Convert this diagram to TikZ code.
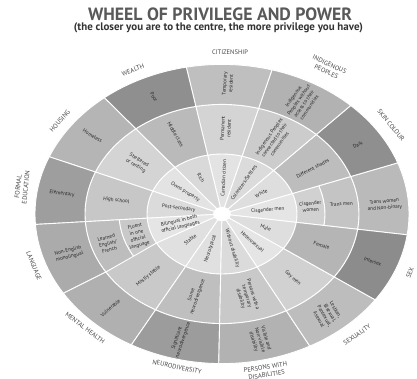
\documentclass[tikz,border=0pt]{standalone}
\usepackage{fontspec}
\setmainfont{PT Sans}
\usepackage{graphicx}
% one wedge of the wheel: a1in a2in a1out a2out rin rout colour
\newcommand\wcell[7]{%
  \filldraw[cellbox, fill=#7] (#1:#5) arc[start angle=#1, end angle=#2, radius=#5]
    -- (#4:#6) arc[start angle=#4, end angle=#3, radius=#6] -- cycle;}
\begin{document}
\begin{tikzpicture}[x=1pt,y=-1pt,
  cellbox/.style={draw=white, line width=0.9pt},
  lbl/.style={font=\fontsize{5.2}{6.4}\selectfont, text=black!85, align=center, inner sep=0pt},
  cat/.style={font=\fontsize{6.5}{7.8}\selectfont, text=black!72, align=center, inner sep=0pt}]
\useasboundingbox (0,0) rectangle (417,379);
\fill[white] (0,0) rectangle (417,379);

% heading
\node[inner sep=0pt, text=black!65] (title) at (220,14)
  {\resizebox{264pt}{!}{\bfseries WHEEL OF PRIVILEGE AND POWER}};
\node[inner sep=0pt, text=black!80] (subtitle) at (218.5,28)
  {\resizebox{289pt}{!}{\bfseries (the closer you are to the centre, the more privilege you have)}};

\begin{scope}[shift={(222,214)}, yscale=-0.8]
  % ring 1
  \wcell{-8}{20}{-8}{20}{8.5}{75}{black!10}
  \wcell{20}{46.5}{20}{46.5}{8.5}{75}{black!13}
  \wcell{46.5}{74.5}{46.5}{74.5}{8.5}{75}{black!14}
  \wcell{74.5}{101}{74.5}{101}{8.5}{75}{black!11}
  \wcell{101}{129}{101}{129}{8.5}{75}{black!15}
  \wcell{129}{157.5}{129}{157.5}{8.5}{75}{black!11}
  \wcell{157.5}{184}{157.5}{184}{8.5}{75}{black!14}
  \wcell{184}{209}{184}{209}{8.5}{75}{black!10}
  \wcell{209}{241}{209}{241}{8.5}{75}{black!12}
  \wcell{241}{269}{241}{269}{8.5}{75}{black!12}
  \wcell{269}{298}{269}{298}{8.5}{75}{black!14}
  \wcell{298}{325}{298}{325}{8.5}{75}{black!10}
  \wcell{325}{352}{325}{352}{8.5}{75}{black!13}
  % ring 2
  \wcell{-8}{20}{-8}{20}{75}{103}{black!18}
  \wcell{-8}{20}{-8}{20}{103}{137}{black!23}
  \wcell{20}{46.5}{20}{46.5}{75}{137}{black!26}
  \wcell{46.5}{74.5}{46.5}{74.5}{75}{137}{black!20}
  \wcell{74.5}{101}{74.5}{101}{75}{137}{black!17}
  \wcell{101}{129}{101}{129}{75}{137}{black!27}
  \wcell{129}{157.5}{129}{157.5}{75}{137}{black!17}
  \wcell{157.5}{184}{157.5}{184}{75}{137}{black!22}
  \wcell{184}{209}{184}{212}{75}{103}{black!21}
  \wcell{184}{212}{184}{212}{103}{137}{black!26}
  \wcell{209}{241}{212}{241}{75}{137}{black!21}
  \wcell{241}{269}{241}{269}{75}{137}{black!25}
  \wcell{269}{298}{269}{298}{75}{137}{black!21}
  \wcell{298}{325}{298}{325}{75}{137}{black!18}
  \wcell{325}{352}{325}{352}{75}{137}{black!29}
  % ring 3
  \wcell{-8}{20}{-8}{20}{137}{187}{black!27}
  \wcell{20}{46.5}{20}{46.5}{137}{187}{black!44}
  \wcell{46.5}{74.5}{46.5}{74.5}{137}{187}{black!30}
  \wcell{74.5}{101}{74.5}{101}{137}{187}{black!25}
  \wcell{101}{129}{101}{129}{137}{187}{black!44}
  \wcell{129}{157.5}{129}{157.5}{137}{187}{black!29}
  \wcell{157.5}{184}{157.5}{184}{137}{187}{black!38}
  \wcell{184}{212}{184}{212}{137}{187}{black!33}
  \wcell{212}{241}{212}{241}{137}{187}{black!31}
  \wcell{241}{269}{241}{269}{137}{187}{black!39}
  \wcell{269}{298}{269}{298}{137}{187}{black!30}
  \wcell{298}{325}{298}{325}{137}{187}{black!26}
  \wcell{325}{352}{325}{352}{137}{187}{black!45}

  % ring 1 labels
  \node[lbl, rotate=87]  (citizen)   at (88:45)    {Canadian citizen};
  \node[lbl, rotate=55]  (settlers)  at (60.5:45)  {Colonizers/Settlers};
  \node[lbl, rotate=28]  (white)     at (33.25:47) {White};
  \node[lbl, rotate=5]   (cismen)    at (6:46)     {Cisgender men};
  \node[lbl, rotate=-17.5] (male)    at (-21.5:47) {Male};
  \node[lbl, rotate=-42] (hetero)    at (-48.5:46) {Heterosexual};
  \node[lbl, rotate=-73] (nodisab)   at (-76.5:44) {Without disability};
  \node[lbl, rotate=71.5] (neurotyp) at (-105:45)  {Neurotypical};
  \node[lbl, rotate=38.7] (stable)   at (225:45)   {Stable};
  \node[lbl, rotate=13.3] (bilingual) at (196.5:44) {Bilingual in both\\official languages};
  \node[lbl, rotate=-7.4] (postsec)  at (170.75:44) {Post-secondary};
  \node[lbl, rotate=-31] (owns)      at (143:46)   {Owns property};
  \node[lbl, rotate=-60] (rich)      at (115:50)   {Rich};

  % ring 2 labels
  \node[lbl, rotate=87]  (permres)   at (88:107)   {Permanent\\resident};
  \node[lbl, rotate=55]  (indigcon)  at (60.5:106) {Indigenous Peoples\\connected to their\\communities};
  \node[lbl, rotate=28]  (shades)    at (32:107)   {Different shades};
  \node[lbl, rotate=5]   (ciswomen)  at (6:89)     {Cisgender\\women};
  \node[lbl, rotate=5]   (transmen)  at (6:120)    {Trans men};
  \node[lbl, rotate=-17.5] (female)  at (-21.5:107) {Female};
  \node[lbl, rotate=-42] (gaymen)    at (-48.5:107) {Gay men};
  \node[lbl, rotate=-73] (tempdis)   at (-76.5:106) {Persons with a\\temporary\\disability};
  \node[lbl, rotate=71.5] (someneuro) at (-105:106) {Some\\neurodivergence};
  \node[lbl, rotate=40]  (mostly)    at (226.5:107) {Mostly stable};
  \node[lbl, rotate=14.6] (fluent)   at (198:89)   {Fluent\\in one\\official\\language};
  \node[lbl, rotate=14.6] (learned)  at (198:120)  {Learned\\English/\\French};
  \node[lbl, rotate=-7]  (highsch)   at (171:107)  {High school};
  \node[lbl, rotate=-31] (sheltered) at (143:106)  {Sheltered\\or renting};
  \node[lbl, rotate=-60] (middle)    at (115:110)  {Middle class};

  % ring 3 labels
  \node[lbl, rotate=87]  (tempres)   at (88:163)   {Temporary\\resident};
  \node[lbl, rotate=55]  (indigno)   at (60.5:161) {Indigenous\\Peoples without\\access to their\\communities};
  \node[lbl, rotate=28]  (dark)      at (32.5:161) {Dark};
  \node[lbl, rotate=5]   (transwomen) at (4:163)   {Trans women\\and Non-binary};
  \node[lbl, rotate=-17.5] (intersex) at (-21.5:162) {Intersex};
  \node[lbl, rotate=-60] (lgbpa)     at (-50:164)  {Lesbian,\\Bisexual,\\Pansexual,\\Asexual};
  \node[lbl, rotate=-73] (visible)   at (-76.5:162) {Visible and\\Non-visible\\disability};
  \node[lbl, rotate=71.5] (signeuro) at (-105:162) {Significant\\neurodivergence};
  \node[lbl, rotate=40]  (vulner)    at (226.5:162) {Vulnerable};
  \node[lbl, rotate=14.6] (nonenglish) at (198:161) {Non-English\\monolingual};
  \node[lbl, rotate=-7]  (elementary) at (171:162) {Elementary};
  \node[lbl, rotate=-31] (homeless)  at (143:162)  {Homeless};
  \node[lbl, rotate=-60] (poor)      at (115:161)  {Poor};
\end{scope}

% category names round the rim
\node[cat]              (catcit)   at (230,52)  {CITIZENSHIP};
\node[cat, rotate=-25]  (catindig) at (328,68)  {INDIGENOUS\\PEOPLES};
\node[cat, rotate=-51]  (catskin)  at (391,125) {SKIN COLOUR};
\node[cat, rotate=68]   (catsex)   at (410,273) {SEX};
\node[cat, rotate=35]   (catsexu)  at (357,335) {SEXUALITY};
\node[cat, rotate=9]    (catdis)   at (266,371) {PERSONS WITH\\DISABILITIES};
\node[cat, rotate=-12]  (catneuro) at (177,367) {NEURODIVERSITY};
\node[cat, rotate=-37]  (catmental) at (85,328) {MENTAL HEALTH};
\node[cat, rotate=-68]  (catlang)  at (34,266)  {LANGUAGE};
\node[cat, rotate=84]   (catedu)   at (22,187)  {FORMAL\\EDUCATION};
\node[cat, rotate=48]   (cathouse) at (60,121)  {HOUSING};
\node[cat, rotate=20]   (catwealth) at (133,70) {WEALTH};
\end{tikzpicture}
\end{document}
